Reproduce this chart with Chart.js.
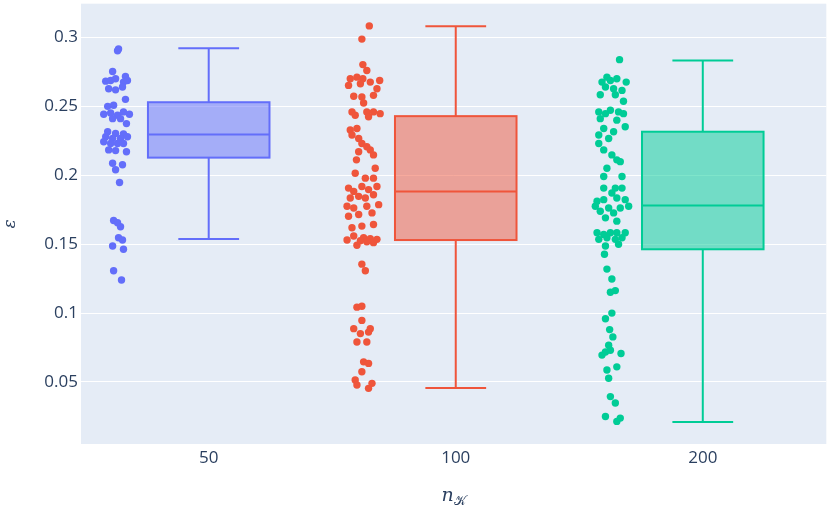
<!DOCTYPE html>
<html>
<head>
<meta charset="utf-8">
<script src="https://cdn.jsdelivr.net/npm/chart.js@4.4.0/dist/chart.umd.min.js"></script>
<style>
  html, body { margin: 0; padding: 0; background: #fff; }
  #wrap { width: 830px; height: 506px; }
</style>
</head>
<body>
<div id="wrap"><canvas id="myChart" width="830" height="506"></canvas></div>
<script>
// categories on the x axis
const categories = ['50', '100', '200'];
const yTicks = [0.05, 0.1, 0.15, 0.2, 0.25, 0.3];

// box statistics
const lowerFence = [0.1537, 0.0457, 0.0210];
const q1 = [0.2128, 0.1530, 0.1463];
const medians = [0.2296, 0.1883, 0.1780];
const q3 = [0.2530, 0.2429, 0.2316];
const upperFence = [0.2921, 0.3081, 0.2832];

// jittered points: values and horizontal jitter (category units)
const values50 = [0.2916, 0.2904, 0.2753, 0.2717, 0.2683, 0.2688, 0.2700, 0.2676, 0.2688, 0.2628,
  0.2620, 0.2640, 0.2551, 0.2500, 0.2508, 0.2443, 0.2452, 0.2436, 0.2460, 0.2443,
  0.2411, 0.2411, 0.2375, 0.2316, 0.2303, 0.2299, 0.2280, 0.2267, 0.2267, 0.2280,
  0.2243, 0.2231, 0.2231, 0.2231, 0.2184, 0.2179, 0.2171, 0.2087, 0.2076, 0.2040,
  0.1948, 0.1672, 0.1655, 0.1626, 0.1547, 0.1530, 0.1487, 0.1463, 0.1307, 0.1240];
const jitter50 = [0.008, 0.004, -0.016, 0.036, -0.044, -0.024, -0.004, 0.028, 0.044, -0.032,
  -0.004, 0.024, 0.036, -0.036, -0.012, -0.052, -0.024, 0.004, 0.028, 0.052,
  -0.016, 0.016, 0.040, -0.036, -0.004, 0.028, -0.044, -0.016, 0.016, 0.044,
  -0.052, -0.024, 0.004, 0.028, -0.032, -0.004, 0.040, -0.016, 0.024, -0.004,
  0.012, -0.012, 0.004, 0.016, 0.008, 0.024, -0.016, 0.028, -0.012, 0.020];

const values100 = [0.3084, 0.2988, 0.2803, 0.2760, 0.2712, 0.2700, 0.2700, 0.2688, 0.2652, 0.2664,
  0.2676, 0.2628, 0.2573, 0.2568, 0.2580, 0.2524, 0.2460, 0.2436, 0.2460, 0.2460,
  0.2447, 0.2424, 0.2328, 0.2339, 0.2292, 0.2267, 0.2231, 0.2207, 0.2184, 0.2171,
  0.2148, 0.2112, 0.2051, 0.2015, 0.1979, 0.1979, 0.1907, 0.1919, 0.1883, 0.1896,
  0.1919, 0.1835, 0.1847, 0.1835, 0.1859, 0.1775, 0.1763, 0.1775, 0.1787, 0.1715,
  0.1727, 0.1703, 0.1619, 0.1631, 0.1643, 0.1559, 0.1547, 0.1530, 0.1492, 0.1540,
  0.1511, 0.1525, 0.1518, 0.1535, 0.1355, 0.1307, 0.1043, 0.1050, 0.0947, 0.0887,
  0.0887, 0.0851, 0.0862, 0.0790, 0.0790, 0.0646, 0.0635, 0.0574, 0.0514, 0.0478,
  0.0490, 0.0454];
const jitter100 = [0.023, -0.007, -0.003, 0.013, -0.027, -0.054, -0.003, 0.065, -0.061, -0.013,
  0.027, 0.054, -0.040, -0.007, 0.040, 0.000, -0.047, -0.034, 0.013, 0.040,
  0.067, 0.020, -0.054, -0.027, -0.047, -0.020, -0.007, 0.013, 0.027, -0.020,
  0.040, -0.029, 0.047, -0.034, 0.007, 0.040, -0.061, -0.007, -0.040, 0.020,
  0.054, -0.054, -0.020, 0.007, 0.040, -0.067, -0.040, 0.013, 0.061, -0.020,
  0.034, -0.061, -0.047, -0.007, 0.040, -0.040, 0.000, -0.067, -0.027, 0.027,
  0.040, -0.013, 0.013, 0.054, -0.007, 0.007, -0.027, -0.007, -0.007, -0.040,
  0.027, -0.013, 0.020, -0.027, 0.013, 0.000, 0.020, -0.007, -0.034, -0.027,
  0.034, 0.020];

const values200 = [0.2839, 0.2712, 0.2676, 0.2688, 0.2700, 0.2676, 0.2640, 0.2628, 0.2616, 0.2584,
  0.2584, 0.2537, 0.2460, 0.2447, 0.2472, 0.2460, 0.2447, 0.2411, 0.2400, 0.2339,
  0.2316, 0.2352, 0.2292, 0.2267, 0.2231, 0.2184, 0.2148, 0.2112, 0.2099, 0.2051,
  0.1991, 0.1991, 0.1907, 0.1907, 0.1907, 0.1871, 0.1811, 0.1823, 0.1835, 0.1823,
  0.1775, 0.1763, 0.1763, 0.1775, 0.1739, 0.1727, 0.1691, 0.1667, 0.1583, 0.1571,
  0.1583, 0.1583, 0.1583, 0.1535, 0.1547, 0.1535, 0.1547, 0.1487, 0.1499, 0.1427,
  0.1319, 0.1247, 0.1151, 0.1163, 0.1000, 0.0959, 0.0880, 0.0827, 0.0767, 0.0695,
  0.0718, 0.0730, 0.0707, 0.0587, 0.0610, 0.0527, 0.0394, 0.0347, 0.0250, 0.0238,
  0.0214];
const jitter200 = [0.036, -0.015, -0.035, -0.001, 0.025, 0.063, -0.021, 0.012, 0.046, -0.042,
  0.019, 0.052, -0.048, -0.021, -0.001, 0.032, 0.052, -0.042, 0.025, -0.028,
  0.012, 0.059, -0.048, -0.008, -0.048, -0.028, 0.005, 0.025, 0.039, -0.015,
  -0.028, 0.046, -0.028, 0.019, 0.046, 0.005, -0.055, -0.028, 0.025, 0.059,
  -0.062, -0.008, 0.039, 0.073, -0.042, 0.012, -0.021, 0.025, -0.055, -0.028,
  -0.001, 0.025, 0.059, -0.048, -0.015, 0.019, 0.046, -0.021, 0.032, -0.025,
  -0.015, 0.005, -0.001, 0.019, 0.005, -0.021, -0.004, 0.009, -0.008, -0.035,
  -0.021, -0.001, 0.042, -0.015, 0.025, -0.008, -0.001, 0.019, -0.021, 0.039,
  0.025];

const colors = ['#636efa', '#EF553B', '#00cc96'];
const fills = ['rgba(99,110,250,0.5)', 'rgba(239,85,59,0.5)', 'rgba(0,204,150,0.5)'];
const pointPos = -0.373;   // points column sits left of the box
const boxHalf = 0.246;
const capHalf = 0.123;

const groups = [[values50, jitter50], [values100, jitter100], [values200, jitter200]];
const datasets = groups.map(([vals, jit], i) => ({
  type: 'scatter',
  label: categories[i],
  data: vals.map((v, k) => ({ x: i + pointPos + jit[k], y: v })),
  backgroundColor: colors[i],
  borderWidth: 0,
  pointRadius: 3.7,
  pointHoverRadius: 3.7
}));

const background = {
  id: 'background',
  beforeDraw(chart) {
    const { ctx, chartArea: a } = chart;
    ctx.save();
    ctx.fillStyle = '#fff';
    ctx.fillRect(0, 0, chart.width, chart.height);
    ctx.fillStyle = '#E5ECF6';
    ctx.fillRect(a.left, a.top, a.right - a.left, a.bottom - a.top);
    ctx.restore();
  }
};

const boxes = {
  id: 'boxes',
  beforeDatasetsDraw(chart) {
    const { ctx } = chart;
    const xs = chart.scales.x, ys = chart.scales.y;
    ctx.save();
    ctx.lineWidth = 2;
    categories.forEach((c, i) => {
      const l = xs.getPixelForValue(i - boxHalf), r = xs.getPixelForValue(i + boxHalf);
      const cx = xs.getPixelForValue(i);
      const cl = xs.getPixelForValue(i - capHalf), cr = xs.getPixelForValue(i + capHalf);
      const yq1 = ys.getPixelForValue(q1[i]), yq3 = ys.getPixelForValue(q3[i]);
      const ym = ys.getPixelForValue(medians[i]);
      const ylo = ys.getPixelForValue(lowerFence[i]), yhi = ys.getPixelForValue(upperFence[i]);
      ctx.fillStyle = fills[i];
      ctx.strokeStyle = colors[i];
      ctx.fillRect(l, yq3, r - l, yq1 - yq3);
      ctx.strokeRect(l, yq3, r - l, yq1 - yq3);
      ctx.beginPath();
      ctx.moveTo(l, ym); ctx.lineTo(r, ym);
      ctx.moveTo(cx, yq3); ctx.lineTo(cx, yhi);
      ctx.moveTo(cl, yhi); ctx.lineTo(cr, yhi);
      ctx.moveTo(cx, yq1); ctx.lineTo(cx, ylo);
      ctx.moveTo(cl, ylo); ctx.lineTo(cr, ylo);
      ctx.stroke();
    });
    ctx.restore();
  },
  afterDraw(chart) {
    // x axis title: n with calligraphic K subscript
    const { ctx } = chart;
    const cx = (chart.chartArea.left + chart.chartArea.right) / 2;
    ctx.save();
    ctx.fillStyle = '#2a3f5f';
    ctx.textBaseline = 'alphabetic';
    ctx.font = 'italic 19px "DejaVu Serif", "Liberation Serif", serif';
    const nW = ctx.measureText('n').width;
    ctx.font = '13px "DejaVu Sans", "Noto Sans", serif';
    const kW = ctx.measureText('\u{1D4A6}').width;
    const x0 = cx - (nW + kW) / 2;
    ctx.font = 'italic 19px "DejaVu Serif", "Liberation Serif", serif';
    ctx.fillText('n', x0, 501);
    ctx.font = '13px "DejaVu Sans", "Noto Sans", serif';
    ctx.fillText('\u{1D4A6}', x0 + nW, 505);
    ctx.restore();
  }
};

const tickFont = { family: '"Open Sans", verdana, arial, sans-serif', size: 17 };

const myChart = new Chart(document.getElementById('myChart').getContext('2d'), {
  type: 'scatter',
  data: { datasets },
  options: {
    responsive: false,
    animation: false,
    layout: { padding: { left: 0, right: 2, top: 1, bottom: 0 } },
    plugins: { legend: { display: false }, tooltip: { enabled: false } },
    scales: {
      x: {
        type: 'linear',
        min: -0.517,
        max: 2.5,
        grid: { display: false, drawTicks: false },
        border: { display: false },
        afterBuildTicks: s => { s.ticks = categories.map((c, i) => ({ value: i })); },
        afterFit: s => { s.height = 62; s.paddingLeft = 0; s.paddingRight = 0; },
        ticks: {
          padding: 4,
          color: '#2a3f5f',
          font: tickFont,
          maxRotation: 0,
          callback: v => categories[v]
        }
      },
      y: {
        min: 0.005,
        max: 0.3245,
        grid: { color: '#ffffff', lineWidth: 1, drawTicks: false },
        border: { display: false },
        afterBuildTicks: s => { s.ticks = yTicks.map(v => ({ value: v })); },
        afterFit: s => { s.width = 81; s.paddingTop = 0; s.paddingBottom = 0; },
        ticks: {
          padding: 3,
          color: '#2a3f5f',
          font: tickFont,
          callback: v => String(+v.toFixed(2))
        },
        title: {
          display: true,
          text: '\u03b5',
          color: '#2a3f5f',
          padding: { top: 0, bottom: 0 },
          font: { family: '"DejaVu Serif", "Liberation Serif", serif', style: 'italic', size: 17 }
        }
      }
    }
  },
  plugins: [background, boxes]
});
</script>
</body>
</html>
